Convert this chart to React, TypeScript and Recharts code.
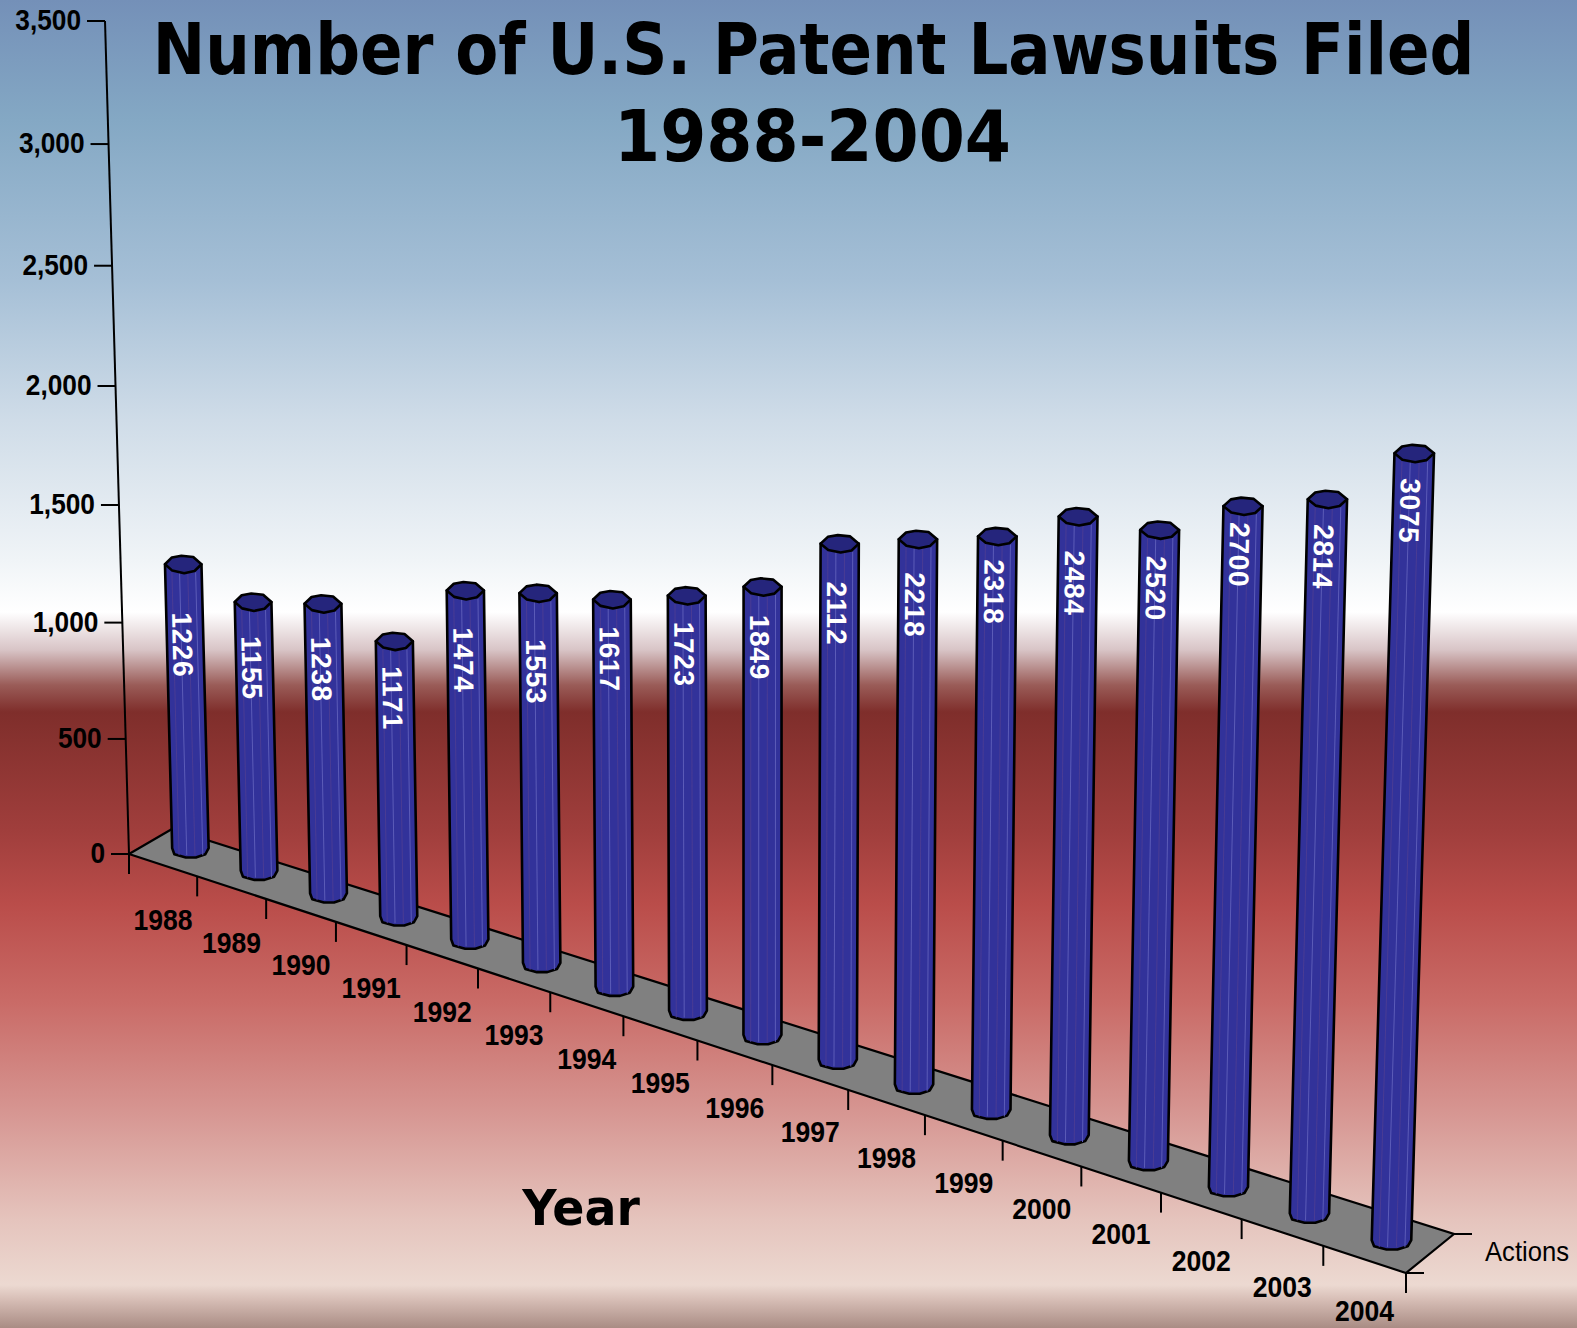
import React from 'react';
import { BarChart, Bar, XAxis, YAxis, Customized } from 'recharts';

const years = ['1988', '1989', '1990', '1991', '1992', '1993', '1994', '1995', '1996', '1997', '1998', '1999', '2000', '2001', '2002', '2003', '2004'];
const lawsuits = [1226, 1155, 1238, 1171, 1474, 1553, 1617, 1723, 1849, 2112, 2218, 2318, 2484, 2520, 2700, 2814, 3075];
const valueTicks = [0, 500, 1000, 1500, 2000, 2500, 3000, 3500];
const labelDrop = [48, 34, 33, 25, 37, 46, 27, 26, 28, 38, 33, 23, 34, 26, 16, 25, 25];

const chartData = years.map((year, i) => ({ year, actions: lawsuits[i] }));

const WIDTH = 1577;
const HEIGHT = 1328;
const PLOT_LEFT = 129;
const PLOT_TOP = 21;
const PLOT_W = 1277;
const PLOT_H = 833;
const PLOT_BOTTOM = PLOT_TOP + PLOT_H;
const MAX_VALUE = 3500;
const NARROW = '"Liberation Sans", Arial, sans-serif';
const TITLE_FONT = '"DejaVu Sans", Verdana, sans-serif';

// the plane the bars stand in: first and last bar, at value 0 and at 3500
const quad = { p00: [190, 848], p10: [1391, 1240], p11: [1417, 340], p01: [169, 18] };

const makeHomography = ({ p00, p10, p11, p01 }: Record<string, number[]>) => {
  const [x0, y0] = p00, [x1, y1] = p10, [x2, y2] = p11, [x3, y3] = p01;
  const dx1 = x1 - x2, dx2 = x3 - x2, sx = x0 - x1 + x2 - x3;
  const dy1 = y1 - y2, dy2 = y3 - y2, sy = y0 - y1 + y2 - y3;
  const den = dx1 * dy2 - dx2 * dy1;
  const g = (sx * dy2 - dx2 * sy) / den;
  const h = (dx1 * sy - sx * dy1) / den;
  const a = x1 - x0 + g * x1, b = x3 - x0 + h * x3;
  const d = y1 - y0 + g * y1, e = y3 - y0 + h * y3;
  return (u: number, v: number) => {
    const w = g * u + h * v + 1;
    return [(a * u + b * v + x0) / w, (d * u + e * v + y0) / w];
  };
};
const project = makeHomography(quad);

// one-dimensional perspective between two screen points
const along = (from: number[], to: number[], t: number, k: number) => {
  const w = (1 - t) * k + t;
  return [((1 - t) * k * from[0] + t * to[0]) / w, ((1 - t) * k * from[1] + t * to[1]) / w];
};

const FRONT_LEFT = [129, 854];
const FRONT_RIGHT = [1406, 1273];
const BACK_RIGHT = [1454, 1234];
const BACK_LEFT = [172, 829];
const AXIS_TOP = [105, 21];

const frontEdge = (s: number) => along(FRONT_LEFT, FRONT_RIGHT, s, 1.108);

// the caps are faceted in the source, so not a true ellipse
const capOutline = [[-1, 0], [-0.62, -0.8], [-0.1, -1], [0.55, -0.85], [1, 0], [0.62, 0.8], [0.05, 1.05], [-0.6, 0.75]];
const baseOutline = [[1, 0], [0.82, 0.72], [0.3, 1.1], [-0.25, 1.1], [-0.88, 0.72], [-1, 0]];

const Cylinder = (props: any) => {
  const { x, y, width, index, value } = props;
  const s = (x + width / 2 - PLOT_LEFT) / PLOT_W;
  const u = (s * years.length - 0.5) / (years.length - 1);
  const v = (PLOT_BOTTOM - y) / PLOT_H;
  const [bx, by] = project(u, 0);
  const [tx, ty] = project(u, v);
  const half = (width * (0.96 + 0.08 * u)) / 2;
  const ry = 8.5;
  const angle = (Math.atan2(by - ty, bx - tx) * 180) / Math.PI;
  const len = Math.hypot(bx - tx, by - ty);
  const ax = (bx - tx) / len, ay = (by - ty) / len;
  const drop = labelDrop[index];
  const lx = tx + ax * drop - 3, ly = ty + ay * drop;
  const bottom = baseOutline.map(([px, py]) => `${bx + px * half},${by + py * ry}`).join(' L');
  const body = `M${tx + half},${ty} L${bottom} L${tx - half},${ty} Z`;
  const cap = capOutline.map(([px, py]) => `${tx + px * half},${ty + py * ry}`).join(' ');
  const facets = [-0.62, -0.2, 0.25, 0.68];
  return (
    <g>
      <path d={body} fill="#32329a" stroke="#000" strokeWidth={2.6} strokeLinejoin="round" />
      {facets.map((f, i) => (
        <line
          key={f}
          x1={tx + f * half}
          y1={ty + 8}
          x2={bx + f * half}
          y2={by + 7}
          stroke={i % 2 ? '#5c5cb8' : '#4a3c94'}
          strokeWidth={1}
        />
      ))}
      <polygon points={cap} fill="#25257c" stroke="#000" strokeWidth={2.6} strokeLinejoin="round" />
      <text
        transform={`translate(${lx} ${ly}) rotate(${angle})`}
        fill="#fff"
        fontFamily={NARROW}
        fontWeight="bold"
        fontSize={28}
        letterSpacing={0.7}
        dominantBaseline="central"
      >
        {value}
      </text>
    </g>
  );
};

const YearTick = (props: any) => {
  const { x, payload, index } = props;
  const s = (x - PLOT_LEFT) / PLOT_W;
  const n = years.length;
  const [lx, ly] = frontEdge(s);
  const [rx, ry] = frontEdge((index + 1) / n);
  // the last label sits right at the bottom of the picture
  const labelY = Math.min(ly + 65, HEIGHT - 7);
  return (
    <g>
      <line x1={rx} y1={ry} x2={rx} y2={ry + 20} stroke="#000" strokeWidth={2} />
      <text
        transform={`translate(${lx} ${labelY}) scale(0.9 1)`}
        textAnchor="middle"
        fontFamily={NARROW}
        fontWeight="bold"
        fontSize={29.5}
        fill="#000"
      >
        {payload.value}
      </text>
    </g>
  );
};

const ValueTick = (props: any) => {
  const { y, payload } = props;
  const t = (PLOT_BOTTOM - y) / PLOT_H;
  const [ax, ay] = along(FRONT_LEFT, AXIS_TOP, t, 1.04);
  return (
    <g>
      <line x1={ax - 18} y1={ay} x2={ax} y2={ay} stroke="#000" strokeWidth={2} />
      <text
        transform={`translate(${ax - 24} ${ay + 9}) scale(0.89 1)`}
        textAnchor="end"
        fontFamily={NARROW}
        fontWeight="bold"
        fontSize={29.5}
        fill="#000"
      >
        {Number(payload.value).toLocaleString('en-US')}
      </text>
    </g>
  );
};

const Floor = () => (
  <g>
    <polygon
      points={[FRONT_LEFT, BACK_LEFT, BACK_RIGHT, FRONT_RIGHT].map((p) => p.join(',')).join(' ')}
      fill="#808080"
      stroke="#000"
      strokeWidth={2.2}
    />
    <line x1={AXIS_TOP[0]} y1={AXIS_TOP[1]} x2={FRONT_LEFT[0]} y2={FRONT_LEFT[1]} stroke="#000" strokeWidth={2} />
    <line x1={FRONT_LEFT[0]} y1={FRONT_LEFT[1]} x2={FRONT_LEFT[0]} y2={FRONT_LEFT[1] + 20} stroke="#000" strokeWidth={2} />
    <line x1={BACK_RIGHT[0]} y1={BACK_RIGHT[1]} x2={BACK_RIGHT[0] + 18} y2={BACK_RIGHT[1]} stroke="#000" strokeWidth={2} />
    <line x1={FRONT_RIGHT[0]} y1={FRONT_RIGHT[1]} x2={FRONT_RIGHT[0] + 18} y2={FRONT_RIGHT[1]} stroke="#000" strokeWidth={2} />
  </g>
);

const Titles = () => (
  <g fontFamily={TITLE_FONT} fontWeight="bold" fill="#000">
    <text transform="translate(813.5 74) scale(0.883 1)" textAnchor="middle" fontSize={71}>
      Number of U.S. Patent Lawsuits Filed
    </text>
    <text transform="translate(812.5 161) scale(0.935 1)" textAnchor="middle" fontSize={71}>
      1988-2004
    </text>
    <text transform="translate(581 1225) scale(0.95 1)" textAnchor="middle" fontSize={50}>
      Year
    </text>
    <text x={1485} y={1261} fontFamily={NARROW} fontWeight="normal" fontSize={28} textLength={84} lengthAdjust="spacingAndGlyphs">
      Actions
    </text>
  </g>
);

const background =
  'linear-gradient(180deg, #7490b8 0px, #84a8c4 120px, #a5bfd6 280px, #cfdce8 420px, #f0f4f7 560px, #ffffff 612px, #d8c4c6 650px, #9a5c58 685px, #7f2e2b 712px, #a03e3c 830px, #ba4d4a 905px, #c96a66 1000px, #d69591 1110px, #e5c4bd 1220px, #ecd9d1 1285px, #d6bdb5 1300px, #a98c84 1328px)';

export default function App() {
  return (
    <div style={{ position: 'absolute', left: 0, top: 0, width: WIDTH, height: HEIGHT, background }}>
      <BarChart
        width={WIDTH}
        height={HEIGHT}
        data={chartData}
        barSize={38}
        margin={{ left: PLOT_LEFT - 1, top: PLOT_TOP, right: WIDTH - PLOT_LEFT - PLOT_W, bottom: HEIGHT - PLOT_BOTTOM - 1 }}
      >
        <Customized component={Floor} />
        <XAxis dataKey="year" height={1} interval={0} axisLine={false} tickLine={false} tick={YearTick} />
        <YAxis
          width={1}
          domain={[0, MAX_VALUE]}
          ticks={valueTicks}
          interval={0}
          axisLine={false}
          tickLine={false}
          tick={ValueTick}
        />
        <Bar dataKey="actions" isAnimationActive={false} shape={Cylinder} />
        <Customized component={Titles} />
      </BarChart>
    </div>
  );
}
